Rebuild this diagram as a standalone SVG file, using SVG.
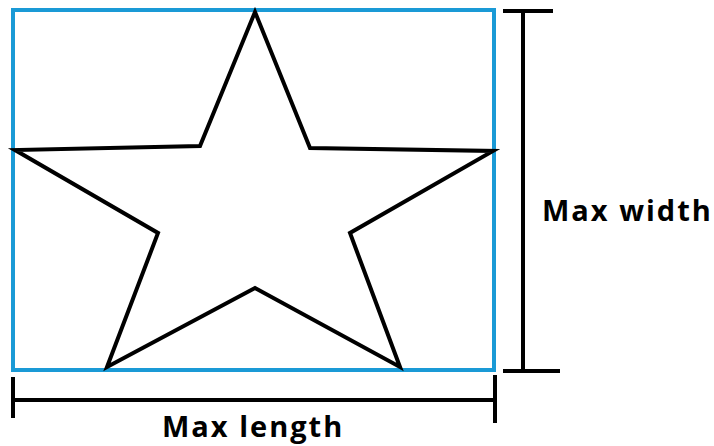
<svg xmlns="http://www.w3.org/2000/svg" width="714" height="446" viewBox="0 0 714 446">
<style>
.dim{stroke:#000;stroke-width:4;fill:none}
.lbl{font-family:"Open Sans","Liberation Sans",sans-serif;font-weight:bold;font-size:29px;letter-spacing:2px;fill:#000}
</style>
<rect width="714" height="446" fill="#fff"/>
<g id="bbox"><rect x="13" y="10" width="481" height="360" fill="none" stroke="#1a9ad6" stroke-width="4"/></g>
<g id="star"><polygon points="255,12 310,148 493,151 350,233 400,367 255,288 107,367 158,233 15,150 200,146" fill="none" stroke="#000" stroke-width="4" stroke-linejoin="miter"/></g>
<g id="connectors">
<path class="dim" d="M503,11H553M523,11V371M503,371H560"/>
<path class="dim" d="M13,377V418M13,400H495M495,375V423"/>
</g>
<g id="label-width"><text class="lbl" x="542" y="221">Max width</text></g>
<g id="label-length"><text class="lbl" x="162" y="437">Max length</text></g>
</svg>
